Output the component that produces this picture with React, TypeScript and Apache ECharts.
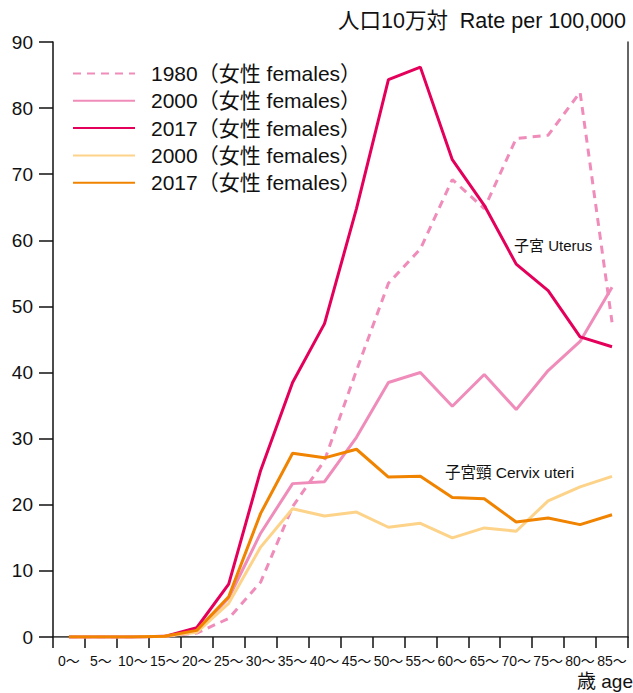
import React, { useEffect, useRef } from "react";
import * as echarts from "echarts";

const categories = ["0〜", "5〜", "10〜", "15〜", "20〜", "25〜", "30〜", "35〜", "40〜", "45〜", "50〜", "55〜", "60〜", "65〜", "70〜", "75〜", "80〜", "85〜"];

const uterus1980 = [0, 0, 0, 0.1, 0.6, 2.8, 8.3, 19.7, 26.7, 40.3, 53.5, 58.7, 69.2, 64.8, 75.4, 75.9, 82.4, 47.6];
const uterus2000 = [0, 0, 0, 0.1, 0.8, 5.9, 15.7, 23.2, 23.5, 30.2, 38.5, 40.0, 34.9, 39.7, 34.4, 40.3, 44.7, 52.9];
const uterus2017 = [0, 0, 0, 0.1, 1.4, 8.0, 25.2, 38.5, 47.4, 64.8, 84.3, 86.2, 72.2, 65.3, 56.4, 52.4, 45.4, 43.9];
const cervix2000 = [0, 0, 0, 0.1, 0.7, 5.1, 13.6, 19.4, 18.3, 18.9, 16.6, 17.2, 15.0, 16.5, 16.0, 20.6, 22.7, 24.3];
const cervix2017 = [0, 0, 0, 0.1, 1.0, 6.1, 18.7, 27.8, 27.1, 28.4, 24.2, 24.3, 21.1, 20.9, 17.4, 18.0, 17.0, 18.5];

const seriesNames = ["1980（女性 females）", "2000（女性 females） ", "2017（女性 females） ", "2000（女性 females）", "2017（女性 females）"];

const FONT = "'Liberation Sans', 'Noto Sans CJK JP', sans-serif";

export default function App() {
  const ref = useRef<HTMLDivElement>(null);
  useEffect(() => {
    if (!ref.current) return;
    const chart = echarts.init(ref.current, undefined, { renderer: "svg" });
    const mk = (name: string, data: number[], color: string, type: any = "solid") => ({
      name,
      type: "line",
      data,
      symbol: "none",
      lineStyle: { color, width: 3, type },
      itemStyle: { color },
    });
    chart.setOption({
      animation: false,
      textStyle: { fontFamily: FONT },
      grid: { left: 53, right: 5, top: 42, bottom: 56, containLabel: false },
      legend: {
        orient: "vertical",
        left: 72,
        top: 63,
        padding: 0,
        itemWidth: 62,
        itemHeight: 14,
        itemGap: 6.3,
        itemStyle: { opacity: 0, borderWidth: 0 },
        textStyle: { fontFamily: FONT, fontSize: 21, lineHeight: 20, color: "#111", padding: [0, 0, 0, 11] },
        data: seriesNames,
      },
      xAxis: [
        {
          type: "category",
          data: categories,
          boundaryGap: true,
          axisLine: { lineStyle: { color: "#111", width: 1.5 } },
          axisTick: { show: true, inside: false, length: 11, lineStyle: { color: "#111", width: 1.5 } },
          axisLabel: { interval: 0, margin: 17, fontSize: 14, color: "#111", fontFamily: FONT },
          splitLine: { show: false },
        },
        {
          type: "category",
          data: categories,
          position: "top",
          axisLine: { lineStyle: { color: "#777", width: 1 } },
          axisTick: { show: false },
          axisLabel: { show: false },
        },
      ],
      yAxis: [
        {
          type: "value",
          min: 0,
          max: 90,
          interval: 10,
          axisLine: { show: true, lineStyle: { color: "#111", width: 1.5 } },
          axisTick: { show: true, length: 14, lineStyle: { color: "#111", width: 1.5 } },
          axisLabel: { margin: 20, fontSize: 19, color: "#111", fontFamily: FONT },
          splitLine: { show: false },
        },
        {
          type: "value",
          min: 0,
          max: 90,
          interval: 10,
          position: "right",
          axisLine: { show: true, lineStyle: { color: "#333", width: 1.5 } },
          axisTick: { show: false },
          axisLabel: { show: false },
          splitLine: { show: false },
        },
      ],
      graphic: [
        {
          type: "text",
          right: 7,
          top: 10,
          style: { text: "人口10万対  Rate per 100,000", font: `21.5px ${FONT}`, fill: "#111" },
        },
        {
          type: "text",
          right: 0,
          top: 672,
          style: { text: "歳 age", font: `19px ${FONT}`, fill: "#111" },
        },
        {
          type: "text",
          left: 514,
          top: 238,
          style: { text: "子宮 Uterus", font: `15px ${FONT}`, fill: "#111" },
        },
        {
          type: "text",
          left: 445,
          top: 465,
          style: { text: "子宮頸 Cervix uteri", font: `15.5px ${FONT}`, fill: "#111" },
        },
      ],
      series: [
        mk(seriesNames[0], uterus1980, "#f08cba", [8, 6]),
        mk(seriesNames[1], uterus2000, "#f08cba"),
        mk(seriesNames[2], uterus2017, "#e4005a"),
        mk(seriesNames[3], cervix2000, "#fdd389"),
        mk(seriesNames[4], cervix2017, "#f08300"),
      ],
    });
    return () => chart.dispose();
  }, []);
  return <div ref={ref} style={{ width: 633, height: 693, position: "absolute", left: 0, top: 0 }} />;
}
